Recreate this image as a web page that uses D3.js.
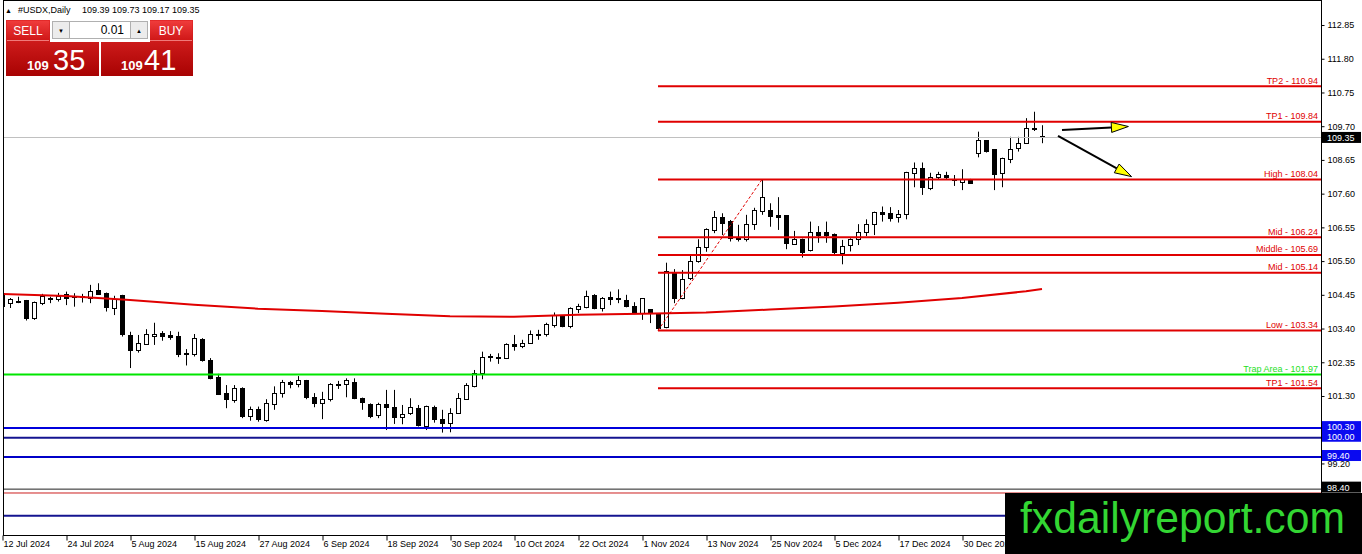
<!DOCTYPE html>
<html>
<head>
<meta charset="utf-8">
<script src="https://cdn.jsdelivr.net/npm/d3@7"></script>
<style>
  html, body { margin: 0; padding: 0; background: #fff; overflow: hidden; }
  svg { display: block; font-family: "Liberation Sans", Arial, sans-serif; }
</style>
</head>
<body>
<div id="chart"></div>
<script>
// ---- data ----
const symbolTitle = "#USDX,Daily";
const lastQuote = [109.39, 109.73, 109.17, 109.35]; // O H L C of the live bar
const firstDay = "2024-07-12";
const closedDays = ["2024-12-25", "2025-01-01"];

const opens = [
  104.48, 104.19, 104.25, 104.26, 103.72, 104.19, 104.31, 104.29, 104.45, 104.40,
  104.39, 104.34, 104.57, 104.48, 104.03, 104.42, 103.17, 102.71, 102.91, 103.15,
  103.25, 103.17, 103.15, 102.63, 102.58, 103.07, 102.42, 101.87, 101.37, 101.16,
  101.54, 100.66, 100.89, 100.53, 101.04, 101.39, 101.73, 101.67, 101.78, 101.26,
  101.07, 101.20, 101.67, 101.67, 101.73, 101.23, 101.05, 100.69, 101.02, 100.95,
  100.64, 100.76, 100.92, 100.35, 100.94, 100.58, 100.45, 100.76, 101.20, 101.61,
  101.99, 102.53, 102.50, 102.48, 102.89, 102.84, 102.94, 103.22, 103.20, 103.48,
  103.79, 103.46, 103.98, 104.06, 104.44, 104.03, 104.38, 104.32, 104.26, 104.10,
  103.88, 103.98, 103.85, 103.43, 105.14, 104.34, 104.97, 105.48, 105.93, 106.45,
  106.87, 106.73, 106.23, 106.16, 106.63, 107.04, 107.06, 106.91, 106.91, 106.03,
  106.18, 105.83, 106.40, 106.39, 106.34, 105.74, 105.99, 106.16, 106.39, 106.65,
  107.01, 106.97, 106.87, 106.94, 108.23, 108.39, 107.77, 108.11, 108.18, 108.05,
  107.96, 108.03, 108.84, 109.25, 108.96, 108.23, 108.67, 109.01, 109.17, 109.64,
  109.39
];
const highs = [
  104.54, 104.35, 104.39, 104.29, 104.24, 104.48, 104.39, 104.51, 104.55, 104.50,
  104.48, 104.76, 104.81, 104.52, 104.42, 104.45, 103.30, 103.20, 103.38, 103.58,
  103.32, 103.32, 103.30, 102.76, 103.23, 103.10, 102.48, 101.99, 101.64, 101.64,
  101.57, 100.97, 100.97, 101.20, 101.60, 101.80, 101.77, 101.92, 101.80, 101.39,
  101.43, 101.70, 101.77, 101.85, 101.85, 101.25, 101.07, 101.09, 101.49, 101.49,
  101.02, 101.23, 101.02, 101.00, 101.00, 100.87, 100.92, 101.39, 101.70, 102.11,
  102.68, 102.61, 102.63, 102.94, 103.20, 103.05, 103.34, 103.36, 103.58, 103.90,
  103.82, 104.06, 104.17, 104.58, 104.47, 104.38, 104.55, 104.62, 104.45, 104.22,
  104.34, 104.00, 103.88, 105.45, 105.25, 105.22, 105.69, 106.18, 106.52, 107.06,
  106.99, 106.78, 106.63, 106.94, 107.16, 108.04, 107.30, 107.49, 106.93, 106.44,
  106.20, 106.73, 106.59, 106.73, 106.36, 106.16, 106.21, 106.65, 106.80, 107.04,
  107.20, 107.18, 107.09, 108.28, 108.57, 108.57, 108.25, 108.28, 108.28, 108.18,
  108.36, 108.06, 109.53, 109.27, 108.98, 108.72, 109.37, 109.37, 109.95, 110.15,
  109.73
];
const lows = [
  104.04, 104.04, 104.19, 103.65, 103.67, 104.13, 104.19, 104.24, 104.13, 104.08,
  104.21, 104.19, 104.47, 103.93, 103.82, 103.15, 102.17, 102.65, 102.89, 102.89,
  103.02, 103.05, 102.51, 102.25, 102.53, 102.37, 101.82, 101.33, 100.92, 101.09,
  100.61, 100.53, 100.50, 100.50, 100.87, 101.25, 101.54, 101.57, 101.20, 100.95,
  100.58, 101.13, 101.52, 101.26, 101.20, 100.87, 100.61, 100.61, 100.24, 100.43,
  100.42, 100.71, 100.35, 100.24, 100.47, 100.16, 100.17, 100.74, 101.18, 101.57,
  101.82, 102.37, 102.30, 102.45, 102.71, 102.79, 102.92, 103.05, 103.15, 103.43,
  103.44, 103.41, 103.88, 104.03, 104.00, 103.93, 104.13, 104.19, 104.06, 103.85,
  103.67, 103.57, 103.34, 103.41, 104.19, 104.31, 104.91, 105.45, 105.79, 106.37,
  106.31, 106.11, 106.11, 106.11, 106.47, 106.94, 106.57, 106.47, 105.87, 106.02,
  105.61, 105.80, 106.07, 106.07, 105.66, 105.40, 105.80, 106.00, 106.28, 106.31,
  106.73, 106.73, 106.70, 106.80, 107.80, 107.56, 107.71, 108.03, 108.03, 107.84,
  107.71, 107.90, 108.73, 108.88, 107.71, 107.80, 108.55, 108.91, 109.15, 109.55,
  109.17
];
const closes = [
  104.10, 104.29, 104.24, 103.72, 104.21, 104.39, 104.32, 104.41, 104.34, 104.39,
  104.40, 104.55, 104.47, 104.06, 104.29, 103.22, 102.73, 102.92, 103.20, 103.23,
  103.15, 103.12, 102.58, 102.58, 103.08, 102.40, 101.85, 101.36, 101.18, 101.54,
  100.66, 100.89, 100.56, 101.07, 101.39, 101.73, 101.65, 101.77, 101.26, 101.07,
  101.20, 101.65, 101.63, 101.77, 101.22, 101.09, 100.66, 101.02, 100.95, 100.64,
  100.73, 100.95, 100.37, 100.97, 100.58, 100.43, 100.76, 101.23, 101.64, 101.99,
  102.51, 102.52, 102.51, 102.91, 102.84, 102.92, 103.20, 103.23, 103.54, 103.82,
  103.46, 104.01, 104.10, 104.39, 104.02, 104.32, 104.31, 104.29, 104.08, 103.91,
  104.32, 103.88, 103.41, 105.17, 104.34, 104.93, 105.49, 105.93, 106.49, 106.87,
  106.66, 106.21, 106.16, 106.65, 107.06, 107.49, 106.88, 106.85, 106.06, 106.16,
  105.76, 106.40, 106.31, 106.31, 105.76, 105.95, 106.16, 106.40, 106.65, 107.01,
  106.94, 106.83, 106.96, 108.25, 108.39, 107.80, 108.11, 108.21, 108.11, 108.00,
  108.05, 107.92, 109.25, 108.91, 108.21, 108.70, 108.98, 109.17, 109.64, 109.59,
  109.35
];

// slow moving average, read every 8th bar
const maBars = [0, 8, 16, 24, 32, 40, 48, 56, 64, 72, 80, 88, 96, 104, 112, 120, 128, 130];
const maValues = [104.48, 104.41, 104.29, 104.14, 104.02, 103.95, 103.86, 103.78, 103.77,
  103.83, 103.86, 103.90, 103.99, 104.09, 104.20, 104.35, 104.56, 104.63];

// levels drawn from the Nov low bar to the right edge
const levelNames = ["TP2", "TP1", "High", "Mid", "Middle", "Mid", "Low", "TP1"];
const levelValues = [110.94, 109.84, 108.04, 106.24, 105.69, 105.14, 103.34, 101.54];
const levelStartBar = 82;
const trapName = "Trap Area";
const trapValue = 101.97;
const supportValues = [100.30, 100.00, 99.40];
const trendBars = [82, 95];
const trendValues = [103.34, 108.04];
const footLines = [98.40, 98.28, 97.57];

const arrowStart = [[132.5, 109.58], [132.0, 109.40]];
const arrowEnd = [[140.8, 109.69], [141.2, 108.13]];

const priceTicks = [112.85, 111.80, 110.75, 109.70, 108.65, 107.60, 106.55, 105.50,
  104.45, 103.40, 102.35, 101.30, 99.20];
const tickLabels = ["12 Jul 2024", "24 Jul 2024", "5 Aug 2024", "15 Aug 2024", "27 Aug 2024",
  "6 Sep 2024", "18 Sep 2024", "30 Sep 2024", "10 Oct 2024", "22 Oct 2024", "1 Nov 2024",
  "13 Nov 2024", "25 Nov 2024", "5 Dec 2024", "17 Dec 2024", "30 Dec 2024"];

// ---- layout ----
const width = 1362;
const height = 554;
const plotLeft = 3;
const plotRight = 1321;
const plotBottom = 535;
const red = "#e00000";
const fontFamily = '"Liberation Sans", Arial, sans-serif';

const parseDay = d3.timeParse("%Y-%m-%d");
const keyDay = d3.timeFormat("%Y-%m-%d");
const formatDay = d3.timeFormat("%-d %b %Y");

const dates = [];
for (let d = parseDay(firstDay); dates.length < closes.length; d = d3.timeDay.offset(d, 1)) {
  if (d.getDay() % 6 !== 0 && !closedDays.includes(keyDay(d))) dates.push(d);
}
const bars = dates.map((d, i) => ({
  date: d, open: opens[i], high: highs[i], low: lows[i], close: closes[i]
}));

const x = d3.scaleLinear().domain([0, 164.875]).range([2, plotRight]);
const y = d3.scaleLinear().domain([96.972, 113.629]).range([plotBottom, 0]);

const svg = d3
  .select("#chart")
  .append("svg")
  .attr("width", width)
  .attr("height", height)
  .style("font-family", fontFamily);

const defs = svg.append("defs");
defs.append("clipPath").attr("id", "plot-clip")
  .append("rect")
  .attr("x", plotLeft).attr("y", 0)
  .attr("width", plotRight - plotLeft).attr("height", plotBottom);

const redGrad = defs.append("linearGradient").attr("id", "red-grad")
  .attr("x1", 0).attr("y1", 0).attr("x2", 0).attr("y2", 1);
redGrad.append("stop").attr("offset", "0%").attr("stop-color", "#e42a2a");
redGrad.append("stop").attr("offset", "100%").attr("stop-color", "#a80202");
const headGrad = defs.append("linearGradient").attr("id", "head-grad")
  .attr("x1", 0).attr("y1", 0).attr("x2", 0).attr("y2", 1);
headGrad.append("stop").attr("offset", "0%").attr("stop-color", "#ef3b3b");
headGrad.append("stop").attr("offset", "100%").attr("stop-color", "#d01818");

svg.append("rect").attr("width", width).attr("height", height).attr("fill", "#fff");

const plot = svg.append("g").attr("clip-path", "url(#plot-clip)");

// Draw candles
const candles = plot.selectAll(".candle").data(bars).enter().append("g").attr("class", "candle");
candles.append("line")
  .attr("x1", (d, i) => Math.round(x(i)) + 0.5)
  .attr("x2", (d, i) => Math.round(x(i)) + 0.5)
  .attr("y1", (d) => y(d.high))
  .attr("y2", (d) => y(d.low))
  .attr("stroke", "#000")
  .attr("stroke-width", 1);
candles.append("rect")
  .attr("x", (d, i) => Math.round(x(i)) - 1.5)
  .attr("y", (d) => y(Math.max(d.open, d.close)))
  .attr("width", 4)
  .attr("height", (d) => Math.max(1, Math.abs(y(d.open) - y(d.close))))
  .attr("fill", (d) => (d.close >= d.open ? "#fff" : "#000"))
  .attr("stroke", "#000")
  .attr("stroke-width", 1)
  .attr("shape-rendering", "crispEdges");

// bid line
plot.append("line")
  .attr("x1", plotLeft).attr("x2", plotRight)
  .attr("y1", Math.round(y(lastQuote[3])) + 0.5).attr("y2", Math.round(y(lastQuote[3])) + 0.5)
  .attr("stroke", "#c0c0c0").attr("stroke-width", 1);

// moving average
plot.append("path")
  .datum(maValues)
  .attr("fill", "none")
  .attr("stroke", red)
  .attr("stroke-width", 2)
  .attr("d", d3.line().x((d, k) => x(maBars[k])).y((d) => y(d)));

// dashed trend line from the Nov low to the Nov high
plot.append("line")
  .attr("x1", x(trendBars[0])).attr("y1", y(trendValues[0]))
  .attr("x2", x(trendBars[1])).attr("y2", y(trendValues[1]))
  .attr("stroke", red).attr("stroke-width", 1).attr("stroke-dasharray", "3,2");

// horizontal levels
const hLine = (value, x1, color, w) =>
  plot.append("line")
    .attr("x1", x1).attr("x2", plotRight)
    .attr("y1", y(value)).attr("y2", y(value))
    .attr("stroke", color).attr("stroke-width", w);

levelValues.forEach((v) => hLine(v, x(levelStartBar), red, 2));
hLine(trapValue, plotLeft, "#00e600", 2);
hLine(supportValues[0], plotLeft, "#0000dc", 2);
hLine(supportValues[1], plotLeft, "#141490", 2);
hLine(supportValues[2], plotLeft, "#0000c8", 2);
hLine(footLines[0], plotLeft, "#202020", 1);
hLine(footLines[1], plotLeft, "#cc2020", 1);
hLine(footLines[2], plotLeft, "#141490", 2);

// level captions
const captions = levelNames.map((n, k) => ({ text: n + " - " + levelValues[k].toFixed(2), v: levelValues[k], c: red }));
captions.push({ text: trapName + " - " + trapValue.toFixed(2), v: trapValue, c: "#1ee01e" });
svg.selectAll(".caption").data(captions).enter().append("text")
  .attr("class", "caption")
  .attr("x", plotRight - 3)
  .attr("y", (d) => y(d.v) - 2.5)
  .attr("text-anchor", "end")
  .attr("font-size", "9px")
  .attr("fill", (d) => d.c)
  .text((d) => d.text);

// arrows
arrowStart.forEach((s, k) => {
  const x0 = x(s[0]), y0 = y(s[1]);
  const x1 = x(arrowEnd[k][0]), y1 = y(arrowEnd[k][1]);
  const len = Math.hypot(x1 - x0, y1 - y0);
  const ux = (x1 - x0) / len, uy = (y1 - y0) / len;
  const bx = x1 - ux * 17, by = y1 - uy * 17;
  svg.append("line")
    .attr("x1", x0).attr("y1", y0).attr("x2", bx).attr("y2", by)
    .attr("stroke", "#000").attr("stroke-width", 2);
  svg.append("path")
    .attr("d", d3.line()([[x1, y1], [bx - uy * 5, by + ux * 5], [bx + uy * 5, by - ux * 5]]) + "Z")
    .attr("fill", "#ffff00").attr("stroke", "#000").attr("stroke-width", 1);
});

// frame
svg.append("rect")
  .attr("x", plotLeft + 0.5).attr("y", 0.5)
  .attr("width", plotRight - plotLeft).attr("height", plotBottom)
  .attr("fill", "none").attr("stroke", "#000").attr("stroke-width", 1);

// price axis
const yAxis = svg.append("g")
  .attr("transform", "translate(" + (plotRight + 0.5) + ",0)")
  .call(d3.axisRight(y).tickValues(priceTicks).tickSize(3).tickPadding(3).tickFormat(d3.format(".2f")));
yAxis.select(".domain").remove();
yAxis.attr("font-family", fontFamily).attr("font-size", "9px");
yAxis.selectAll("text").attr("fill", "#000");

// time axis
const tickBars = tickLabels.map((t) => dates.findIndex((d) => formatDay(d) === t));
const xAxis = svg.append("g")
  .attr("transform", "translate(0," + (plotBottom + 0.5) + ")")
  .call(d3.axisBottom(x).tickValues(tickBars).tickSize(5).tickPadding(2)
    .tickFormat((i) => formatDay(dates[i])));
xAxis.select(".domain").remove();
xAxis.attr("font-family", fontFamily).attr("font-size", "9px");
xAxis.selectAll("text").attr("text-anchor", "start").attr("dx", "1px").attr("dy", "0.55em").attr("fill", "#000");
xAxis.selectAll("line").attr("transform", "translate(0.5,0)");

// axis price boxes
const priceBox = (value, fill, shift) => {
  const g = svg.append("g").attr("transform", "translate(" + (plotRight + 1) + "," + (y(value) + shift) + ")");
  g.append("rect").attr("x", 0).attr("y", -5.5).attr("width", 39).attr("height", 11).attr("fill", fill);
  g.append("text").attr("x", 5).attr("y", 3.5).attr("font-size", "9px").attr("fill", "#fff")
    .text(value.toFixed(2));
};
priceBox(lastQuote[3], "#000", 0);
supportValues.forEach((v) => priceBox(v, "#0a0af0", -1.5));
priceBox(footLines[0], "#000", -2);

// title line
const title = svg.append("text").attr("x", 5).attr("y", 13).attr("font-size", "9px").attr("fill", "#000");
title.append("tspan").attr("font-size", "7px").text("\u25B2");
title.append("tspan").attr("x", 18).text(symbolTitle);
title.append("tspan").attr("x", 82).text(lastQuote.map((v) => v.toFixed(2)).join(" "));

// one-click trading panel
const panel = svg.append("g");
panel.append("rect").attr("x", 6).attr("y", 20).attr("width", 93).attr("height", 56).attr("fill", "url(#red-grad)");
panel.append("rect").attr("x", 101).attr("y", 20).attr("width", 92).attr("height", 56).attr("fill", "url(#red-grad)");
panel.append("rect").attr("x", 50).attr("y", 19).attr("width", 100).attr("height", 23).attr("fill", "#fff");
[[7, "SELL"], [150, "BUY"]].forEach(([hx, label]) => {
  panel.append("rect").attr("x", hx).attr("y", 21).attr("width", 42).attr("height", 19).attr("fill", "url(#head-grad)");
  panel.append("line").attr("x1", hx).attr("x2", hx + 42).attr("y1", 40.5).attr("y2", 40.5)
    .attr("stroke", "#f07a7a").attr("stroke-width", 1);
  panel.append("text").attr("x", hx + 21).attr("y", 35).attr("text-anchor", "middle")
    .attr("font-size", "12px").attr("fill", "#fff").text(label);
});
panel.append("rect").attr("x", 52.5).attr("y", 21.5).attr("width", 17).attr("height", 17)
  .attr("fill", "#ececec").attr("stroke", "#b0b0b0");
panel.append("rect").attr("x", 69.5).attr("y", 21.5).attr("width", 61).attr("height", 17)
  .attr("fill", "#fff").attr("stroke", "#b0b0b0");
panel.append("rect").attr("x", 130.5).attr("y", 21.5).attr("width", 17).attr("height", 17)
  .attr("fill", "#ececec").attr("stroke", "#b0b0b0");
panel.append("text").attr("x", 61).attr("y", 33).attr("text-anchor", "middle").attr("font-size", "6px").text("\u25BC");
panel.append("text").attr("x", 139).attr("y", 33).attr("text-anchor", "middle").attr("font-size", "6px").text("\u25B2");
panel.append("text").attr("x", 124).attr("y", 34).attr("text-anchor", "end").attr("font-size", "12px").text("0.01");

const bidText = lastQuote[3].toFixed(2).split(".");
const askText = (lastQuote[3] + 0.06).toFixed(2).split(".");
[[27, 53, bidText], [121, 144, askText]].forEach(([sx, bx, parts]) => {
  panel.append("text").attr("x", sx).attr("y", 70).attr("font-size", "13px").attr("font-weight", "bold")
    .attr("fill", "#fff").text(parts[0]);
  panel.append("text").attr("x", bx).attr("y", 70).attr("font-size", "29px")
    .attr("fill", "#fff").text(parts[1]);
});

// watermark
svg.append("rect").attr("x", 1005).attr("y", 493).attr("width", 357).attr("height", 61).attr("fill", "#000");
svg.append("text").attr("x", 1020).attr("y", 533).attr("font-size", "44px")
  .attr("textLength", 325).attr("lengthAdjust", "spacingAndGlyphs")
  .attr("fill", "#33d633").text("fxdailyreport.com");
</script>
</body>
</html>
